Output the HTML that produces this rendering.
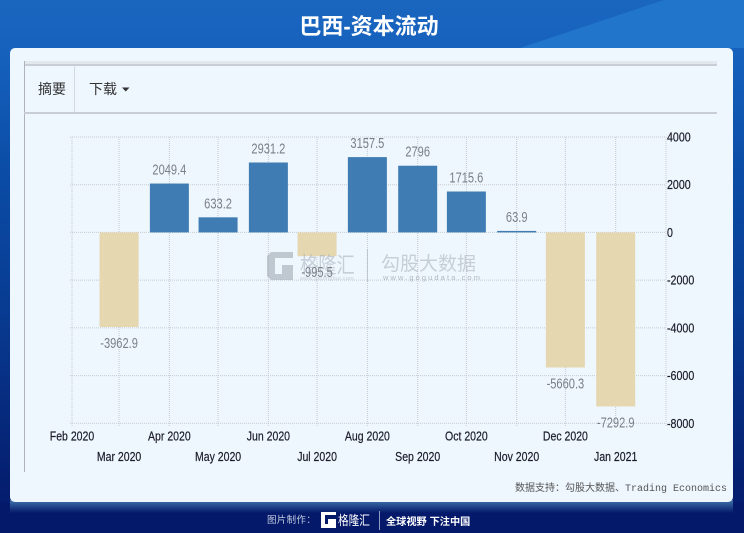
<!DOCTYPE html>
<html lang="zh">
<head>
<meta charset="utf-8">
<title>巴西-资本流动</title>
<style>
html,body{margin:0;padding:0;background:#0a1f6e;}
#stage{position:relative;width:744px;height:533px;overflow:hidden;font-family:"Liberation Sans","Noto Sans CJK SC",sans-serif;}
#stage svg{position:absolute;left:0;top:0;}
</style>
</head>
<body>
<div id="stage">
<svg id="chart" width="744" height="533" viewBox="0 0 744 533" xmlns="http://www.w3.org/2000/svg">
  <defs>
    <linearGradient id="bg" x1="0" y1="0" x2="0" y2="1">
      <stop offset="0" stop-color="#1a66bf"/>
      <stop offset="0.12" stop-color="#1560bb"/>
      <stop offset="0.3" stop-color="#0b4ea8"/>
      <stop offset="0.6" stop-color="#083a90"/>
      <stop offset="0.9" stop-color="#051f70"/>
      <stop offset="1" stop-color="#04196a"/>
    </linearGradient>
    <linearGradient id="foot" x1="0" y1="0" x2="0" y2="1">
      <stop offset="0" stop-color="#3f74ac"/>
      <stop offset="1" stop-color="#04196a"/>
    </linearGradient>
  </defs>
  <rect width="744" height="533" fill="url(#bg)"/>
  <path d="M520 48 L664 0 L744 0 L744 48 Z" fill="#2176cb"/>
  <rect x="0" y="503" width="744" height="30" fill="#04196a"/>
  <rect x="10" y="500" width="723" height="13" fill="url(#foot)"/>
  <text x="369" y="34" text-anchor="middle" font-size="22" font-weight="700" fill="#fff">巴西-资本流动</text>
  <rect x="10" y="48" width="723" height="454" rx="5" fill="#eef6fe"/>
  <rect x="24" y="61" width="693" height="3" fill="#e3e8ee"/>
  <rect x="24" y="64" width="693" height="2" fill="#c9ced4"/>
  <rect x="24" y="61" width="1" height="411" fill="#b0b4ba"/>
  <rect x="24" y="112" width="693" height="2" fill="#c9ced4"/>
  <rect x="74" y="66" width="1" height="46" fill="#d4dae0"/>
  <text x="38" y="94" font-size="14" fill="#333">摘要</text>
  <text x="89" y="94" font-size="14" fill="#333">下载</text>
  <path d="M122 87.5 L129.500 87.500 L125.750 91.500 Z" fill="#333"/>
  <g id="grid"></g>
  <g id="bars"></g>
  <g id="watermark" opacity="0.55">
    <path d="M271 252 h22 v6 h-18 v16 h7 v-9 h11 v15 h-22 l-4 -4 v-20 z" fill="#9aa3ad"/>
    <text transform="translate(300 273) scale(0.83 1)" font-size="22" fill="#a6aeb8">格隆汇</text>
    <text x="300" y="280" font-size="5.500" letter-spacing="0.300" fill="#a6aeb8">www.gelonghui.com</text>
    <rect x="367" y="249" width="1" height="33" fill="#a6aeb8"/>
    <text x="381" y="270" font-size="19" fill="#a6aeb8">勾股大数据</text>
    <text x="383" y="280" font-size="7.500" letter-spacing="2.100" fill="#7f8996">www.gogudata.com</text>
  </g>
  <g id="labels"></g>
  <g id="xaxis"></g>
  <g id="yaxis"></g>
  <text x="727" y="491" text-anchor="end" font-size="10" fill="#555" font-family="'Liberation Mono','Noto Sans CJK SC',monospace">数据支持：勾股大数据、Trading Economics</text>
  <text x="267" y="523" font-size="9.500" fill="#c5cde0" letter-spacing="0.300">图片制作：</text>
  <path d="M321 512 h15 v3 h-11 v9 h3 v-5 h8 v9 h-15 z" fill="#fff"/>
  <text transform="translate(338 525) scale(0.82 1)" font-size="13" fill="#fff">格隆汇</text>
  <rect x="379" y="511" width="1" height="19" fill="#8f9cc0"/>
  <text x="386" y="525" font-size="10.200" font-weight="700" fill="#fff">全球视野 下注中国</text>
</svg>
</div>
<script>
var categories = ["Feb 2020","Mar 2020","Apr 2020","May 2020","Jun 2020","Jul 2020","Aug 2020","Sep 2020","Oct 2020","Nov 2020","Dec 2020","Jan 2021"];
var barCategories = ["Mar 2020","Apr 2020","May 2020","Jun 2020","Jul 2020","Aug 2020","Sep 2020","Oct 2020","Nov 2020","Dec 2020","Jan 2021"];
var flowValues = [-3962.9,2049.4,633.2,2931.2,-995.5,3157.5,2796,1715.6,63.9,-5660.3,-7292.9];
var valueTicks = [4000,2000,0,-2000,-4000,-6000,-8000];
var domainEnd = "Feb 2021";

var NS = "http://www.w3.org/2000/svg";
var MONTHS = {Jan:0,Feb:1,Mar:2,Apr:3,May:4,Jun:5,Jul:6,Aug:7,Sep:8,Oct:9,Nov:10,Dec:11};
function toTime(label){
  var p = label.split(" ");
  return Date.UTC(+p[1], MONTHS[p[0]], 1);
}
var xLeft = 72, xRight = 666, yTop = 137, yBottom = 423.3;
var t0 = toTime(categories[0]), t1 = toTime(domainEnd);
var vMax = valueTicks[0], vMin = valueTicks[valueTicks.length - 1];
function xScale(label){ return xLeft + (toTime(label) - t0) / (t1 - t0) * (xRight - xLeft); }
function yScale(v){ return yTop + (vMax - v) / (vMax - vMin) * (yBottom - yTop); }
function squeeze(x, y, sx){ return "translate(" + x + " " + y + ") scale(" + sx + " 1)"; }
function mk(tag, attrs, parent, text){
  var el = document.createElementNS(NS, tag);
  for (var k in attrs) el.setAttribute(k, attrs[k]);
  if (text !== undefined) el.textContent = text;
  parent.appendChild(el);
  return el;
}
var grid = document.getElementById("grid"), bars = document.getElementById("bars"),
    labels = document.getElementById("labels"), xaxis = document.getElementById("xaxis"),
    yaxis = document.getElementById("yaxis");

valueTicks.forEach(function(v){
  var y = yScale(v);
  var g = mk("line", {x1:xLeft-2, x2:xRight, y1:y, y2:y, stroke:"#c6cacf", "stroke-width":1, "stroke-dasharray":"1 1"}, grid);
  
  
  var t = mk("text", {transform:squeeze(667, y+4.5, 0.82), "font-size":13, fill:"#1c1c2a", stroke:"#1c1c2a", "stroke-width":0.2}, yaxis, String(v));
  
  
});

categories.concat([domainEnd]).forEach(function(c){
  var x = xScale(c);
  var g = mk("line", {x1:x, x2:x, y1:yTop, y2:yBottom+3, stroke:"#c6cacf", "stroke-width":1, "stroke-dasharray":"1 1"}, grid);
  
  
});

categories.forEach(function(c, i){
  var t = mk("text", {transform:squeeze(xScale(c), (i % 2 === 0 ? 440.5 : 461), 0.81), "text-anchor":"middle", "font-size":13, fill:"#1c1c2a", stroke:"#1c1c2a", "stroke-width":0.2}, xaxis, c);
  
  
});

var barWidth = 39;
barCategories.forEach(function(c, i){
  var v = flowValues[i], x = xScale(c), y0 = yScale(0), yv = yScale(v);
  var r = mk("rect", {x:x-barWidth/2, y:Math.min(y0,yv), width:barWidth, height:Math.max(Math.abs(yv-y0),1), fill:(v >= 0 ? "#3f7cb3" : "#e5d7b0")}, bars);
  
  
  var ly = v >= 0 ? yv - 9 : yv + 21;
  var t = mk("text", {transform:squeeze(x, ly, 0.74), "text-anchor":"middle", "font-size":15, fill:"#7b7f88"}, labels, String(v));
  
  
});
</script>
</body>
</html>
